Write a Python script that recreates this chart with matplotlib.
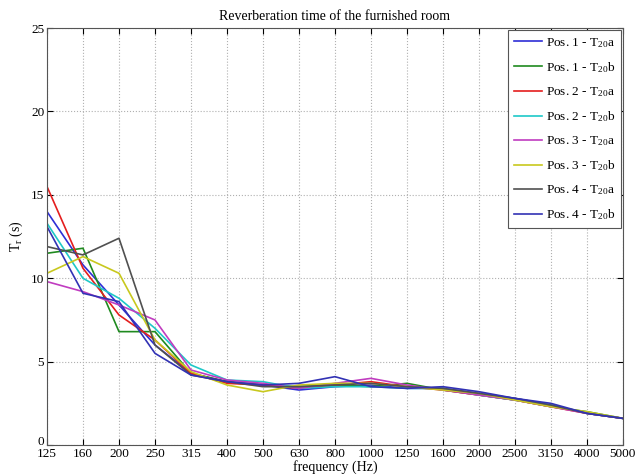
import matplotlib
matplotlib.use("Agg")
import matplotlib.pyplot as plt
import matplotlib.transforms as mtransforms

plt.rcParams['font.family'] = ['Liberation Serif', 'DejaVu Serif']
plt.rcParams['mathtext.fontset'] = 'custom'
plt.rcParams['mathtext.rm'] = 'Liberation Serif'
plt.rcParams['mathtext.it'] = 'Liberation Serif:italic'

freq_labels = ['125', '160', '200', '250', '315', '400', '500', '630', '800', '1000',
               '1250', '1600', '2000', '2500', '3150', '4000', '5000']

pos1a = [14.0, 10.8, 8.4, 6.0, 4.3, 3.8, 3.6, 3.3, 3.5, 3.6, 3.4, 3.4, 3.1, 2.8, 2.4, 1.9, 1.6]
pos1b = [11.5, 11.8, 6.8, 6.8, 4.3, 3.8, 3.6, 3.5, 3.6, 3.5, 3.7, 3.3, 3.0, 2.7, 2.3, 2.0, 1.6]
pos2a = [15.5, 10.6, 7.8, 6.3, 4.3, 3.7, 3.6, 3.4, 3.6, 3.8, 3.5, 3.3, 3.0, 2.7, 2.3, 1.9, 1.6]
pos2b = [13.3, 10.0, 8.8, 7.0, 4.8, 3.9, 3.8, 3.4, 3.5, 3.5, 3.4, 3.4, 3.0, 2.7, 2.4, 1.9, 1.6]
pos3a = [9.8, 9.2, 8.4, 7.5, 4.5, 3.9, 3.7, 3.4, 3.7, 4.0, 3.6, 3.3, 3.0, 2.7, 2.3, 1.9, 1.6]
pos3b = [10.3, 11.3, 10.3, 6.3, 4.4, 3.6, 3.2, 3.6, 3.7, 3.7, 3.5, 3.3, 3.1, 2.7, 2.3, 2.0, 1.6]
pos4a = [11.9, 11.4, 12.4, 6.0, 4.2, 3.8, 3.5, 3.5, 3.6, 3.7, 3.5, 3.4, 3.1, 2.8, 2.4, 1.9, 1.6]
pos4b = [13.1, 9.1, 8.6, 5.5, 4.2, 3.8, 3.6, 3.7, 4.1, 3.5, 3.4, 3.5, 3.2, 2.8, 2.5, 1.9, 1.6]

series = [
    (pos1a, 'Pos. 1 - T$_{20}$a', '#2e2ed6'),
    (pos1b, 'Pos. 1 - T$_{20}$b', '#1f8a1f'),
    (pos2a, 'Pos. 2 - T$_{20}$a', '#e41e1e'),
    (pos2b, 'Pos. 2 - T$_{20}$b', '#1ec8c8'),
    (pos3a, 'Pos. 3 - T$_{20}$a', '#c03cc0'),
    (pos3b, 'Pos. 3 - T$_{20}$b', '#c8c81e'),
    (pos4a, 'Pos. 4 - T$_{20}$a', '#505050'),
    (pos4b, 'Pos. 4 - T$_{20}$b', '#3232b4'),
]

fig = plt.figure(figsize=(6.35, 4.76), dpi=100)
ax = fig.add_axes([0.074, 0.065, 0.907, 0.876])

x = list(range(len(freq_labels)))
for vals, lab, col in series:
    ax.plot(x, vals, color=col, lw=1.2, label=lab)

ax.set_xlim(0, len(freq_labels) - 1)
ax.set_ylim(0, 25)
ax.set_xticks(x)
ax.set_xticklabels(freq_labels)
ax.set_yticks([0, 5, 10, 15, 20, 25])
ax.tick_params(direction='in', top=True, right=True, labelsize=9.5, length=4, pad=2)
ax.grid(True, linestyle=':', color='#b0b0b0', lw=0.8)
for s in ax.spines.values():
    s.set_color('#555555')
    s.set_linewidth(0.8)

# nudge the "0" y tick label upward, as in the reference
ylab0 = ax.get_yticklabels()[0]
ylab0.set_transform(ylab0.get_transform() + mtransforms.ScaledTranslation(0, 5 / 100, fig.dpi_scale_trans))

ax.set_title('Reverberation time of the furnished room', fontsize=10, pad=6)
ax.set_xlabel('frequency (Hz)', fontsize=10, labelpad=0)
ax.set_ylabel('T$_{\\mathrm{r}}$ (s)', fontsize=10, labelpad=4)

leg = ax.legend(loc='upper right', fontsize=9.5, fancybox=False, framealpha=1,
                edgecolor='#555555', borderaxespad=0.15, handlelength=2.1,
                handletextpad=0.3, labelspacing=0.78, borderpad=0.45)
leg.get_frame().set_linewidth(0.8)

fig.savefig('out.png', dpi=100)
